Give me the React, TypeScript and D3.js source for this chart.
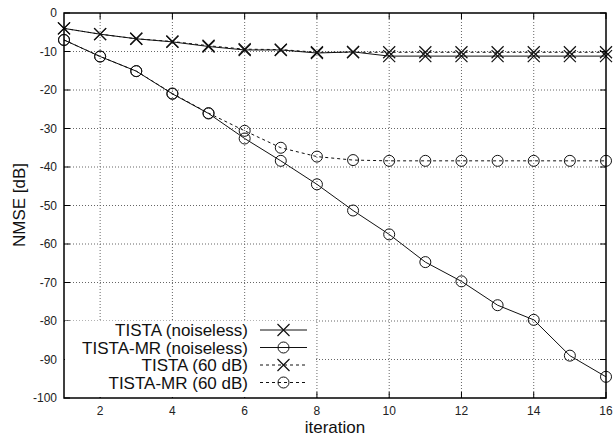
import React from "react";
import * as d3 from "d3";

const iterations = [1, 2, 3, 4, 5, 6, 7, 8, 9, 10, 11, 12, 13, 14, 15, 16];
const tistaNoiseless = [-4.0, -5.5, -6.7, -7.5, -8.7, -9.6, -9.6, -10.4, -10.1, -11.2, -11.2, -11.2, -11.2, -11.2, -11.2, -11.2];
const tistaMrNoiseless = [-7.0, -11.3, -15.1, -21.0, -26.1, -32.6, -38.4, -44.5, -51.3, -57.5, -64.7, -69.7, -75.9, -79.7, -89.0, -94.5];
const tista60 = [-4.0, -5.5, -6.7, -7.4, -8.5, -9.4, -9.5, -10.2, -10.2, -10.2, -10.2, -10.2, -10.2, -10.2, -10.2, -10.2];
const tistaMr60 = [-7.0, -11.3, -15.1, -20.9, -26.0, -30.6, -35.0, -37.3, -38.2, -38.4, -38.4, -38.4, -38.4, -38.4, -38.4, -38.4];
const seriesNames = ["TISTA (noiseless)", "TISTA-MR (noiseless)", "TISTA (60 dB)", "TISTA-MR (60 dB)"];
const xTicks = [2, 4, 6, 8, 10, 12, 14, 16];
const yTicks = [0, -10, -20, -30, -40, -50, -60, -70, -80, -90, -100];

const L = 64, R = 606, T = 13, B = 398;

export default function App() {
  const x = d3.scaleLinear().domain([1, 16]).range([L, R]);
  const y = d3.scaleLinear().domain([-100, 0]).range([B, T]);
  const series = [
    { name: seriesNames[0], values: tistaNoiseless, marker: "x", dash: "" },
    { name: seriesNames[1], values: tistaMrNoiseless, marker: "o", dash: "" },
    { name: seriesNames[2], values: tista60, marker: "x", dash: "3,3" },
    { name: seriesNames[3], values: tistaMr60, marker: "o", dash: "3,3" },
  ];
  const line = d3.line<number>().x((_, i) => x(iterations[i])).y((v) => y(v));
  const marker = (type: string, cx: number, cy: number, key: string) =>
    type === "o" ? (
      <circle key={key} cx={cx} cy={cy} r={5.5} fill="none" stroke="#111" strokeWidth={1} />
    ) : (
      <path key={key} d={`M${cx - 6},${cy - 6}L${cx + 6},${cy + 6}M${cx - 6},${cy + 6}L${cx + 6},${cy - 6}`} stroke="#111" strokeWidth={1.2} />
    );
  const legendRows = [330, 347.5, 365, 382.5];
  return (
    <svg width={615} height={436} style={{ position: "absolute", left: 0, top: 0 }} fontFamily="'Liberation Sans', Arial, sans-serif">
      <rect x={0} y={0} width={615} height={436} fill="#fff" />
      {xTicks.filter((t) => t !== 16).map((t) => (
        <line key={"gx" + t} x1={x(t)} x2={x(t)} y1={T} y2={B} stroke="#666" strokeWidth={1} strokeDasharray="1,2" />
      ))}
      {yTicks.filter((t) => t !== 0 && t !== -100).map((t) => (
        <line key={"gy" + t} x1={L} x2={R} y1={y(t)} y2={y(t)} stroke="#666" strokeWidth={1} strokeDasharray="1,2" />
      ))}
      {xTicks.map((t) => (
        <g key={"tx" + t}>
          <line x1={x(t)} x2={x(t)} y1={B} y2={B - 6} stroke="#000" />
          <line x1={x(t)} x2={x(t)} y1={T} y2={T + 6} stroke="#000" />
          <text x={x(t)} y={415} fontSize={12} textAnchor="middle" fill="#222">{t}</text>
        </g>
      ))}
      {yTicks.map((t) => (
        <g key={"ty" + t}>
          <line x1={L} x2={L + 6} y1={y(t)} y2={y(t)} stroke="#000" />
          <line x1={R} x2={R - 6} y1={y(t)} y2={y(t)} stroke="#000" />
          <text x={57} y={y(t) + 4} fontSize={12} textAnchor="end" fill="#222">{t}</text>
        </g>
      ))}
      <rect x={L + 1} y={321} width={249} height={B - 322} fill="#fff" />
      {series.map((s, si) => (
        <g key={"s" + si}>
          <path d={line(s.values) || ""} fill="none" stroke="#111" strokeWidth={1} strokeDasharray={s.dash} />
          {s.values.map((v, i) => marker(s.marker, x(iterations[i]), y(v), `m${si}-${i}`))}
        </g>
      ))}
      {series.map((s, si) => (
        <g key={"l" + si}>
          <text x={248} y={legendRows[si] + 6} fontSize={17} textAnchor="end" fill="#111">{s.name}</text>
          <line x1={260} x2={307} y1={legendRows[si]} y2={legendRows[si]} stroke="#111" strokeWidth={1} strokeDasharray={s.dash} />
          {marker(s.marker, 283.5, legendRows[si], "lm" + si)}
        </g>
      ))}
      <rect x={L} y={T} width={R - L} height={B - T} fill="none" stroke="#000" strokeWidth={1.5} />
      <text x={335} y={433} fontSize={17} textAnchor="middle" fill="#111">iteration</text>
      <text transform={`translate(24.5,205) rotate(-90)`} fontSize={17} textAnchor="middle" fill="#111">NMSE [dB]</text>
    </svg>
  );
}
